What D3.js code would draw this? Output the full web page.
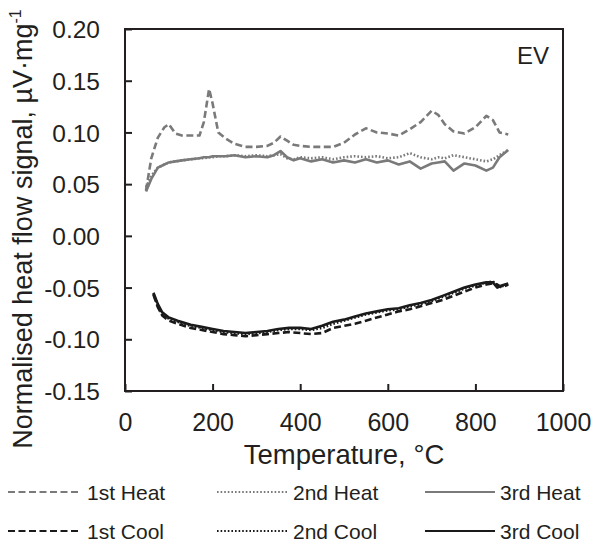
<!DOCTYPE html>
<html>
<head>
<meta charset="utf-8">
<script src="https://cdn.jsdelivr.net/npm/d3@7"></script>
<style>
  body { margin: 0; background: #fff; }
  text { font-family: "Liberation Sans", Arial, sans-serif; fill: #231f20; }
</style>
</head>
<body>
<svg id="chart"></svg>
<script>
// temperatures (°C) at which the heating curves were read
const heatTemps = [48, 60, 75, 90, 100, 115, 130, 150, 170, 180, 192, 200, 213, 230, 250, 275, 300, 325, 340, 355, 370, 385,
  400, 425, 450, 475, 500, 525, 550, 575, 600, 625, 650, 675, 700, 715, 730, 750, 775, 800, 825, 840, 855, 875];
const heat1 = [0.044, 0.075, 0.095, 0.105, 0.108, 0.099, 0.097, 0.097, 0.097, 0.110, 0.142, 0.128, 0.100, 0.094, 0.089, 0.086, 0.086, 0.087, 0.090, 0.096, 0.092, 0.088,
  0.087, 0.086, 0.086, 0.086, 0.090, 0.098, 0.104, 0.100, 0.099, 0.097, 0.103, 0.110, 0.121, 0.117, 0.108, 0.101, 0.099, 0.105, 0.116, 0.112, 0.100, 0.098];
const heat2 = [0.047, 0.058, 0.066, 0.069, 0.071, 0.072, 0.073, 0.074, 0.075, 0.075, 0.076, 0.076, 0.077, 0.077, 0.078, 0.077, 0.078, 0.077, 0.078, 0.079, 0.075, 0.074,
  0.076, 0.075, 0.076, 0.074, 0.076, 0.077, 0.076, 0.077, 0.075, 0.076, 0.080, 0.076, 0.074, 0.076, 0.075, 0.078, 0.076, 0.074, 0.072, 0.074, 0.078, 0.083];
const heat3 = [0.043, 0.055, 0.066, 0.069, 0.071, 0.072, 0.073, 0.074, 0.075, 0.076, 0.076, 0.077, 0.077, 0.077, 0.078, 0.076, 0.077, 0.076, 0.078, 0.082, 0.076, 0.073,
  0.075, 0.072, 0.074, 0.071, 0.073, 0.071, 0.074, 0.071, 0.073, 0.069, 0.072, 0.065, 0.070, 0.071, 0.072, 0.063, 0.070, 0.068, 0.063, 0.066, 0.076, 0.083];

// temperatures for the cooling curves
const coolTemps = [65, 75, 85, 100, 120, 150, 175, 200, 225, 250, 275, 300, 325, 350, 375, 400, 425, 450, 475, 500,
  525, 550, 575, 600, 625, 650, 675, 700, 725, 750, 775, 800, 825, 840, 850, 860, 875];
const cool1 = [-0.057, -0.069, -0.077, -0.082, -0.085, -0.089, -0.091, -0.093, -0.095, -0.096, -0.097, -0.096, -0.095, -0.094, -0.093, -0.094, -0.095, -0.094, -0.089, -0.087,
  -0.085, -0.082, -0.079, -0.076, -0.073, -0.071, -0.068, -0.065, -0.062, -0.058, -0.054, -0.050, -0.047, -0.046, -0.047, -0.050, -0.047];
const cool2 = [-0.056, -0.068, -0.076, -0.080, -0.083, -0.087, -0.089, -0.091, -0.093, -0.094, -0.095, -0.094, -0.093, -0.091, -0.090, -0.090, -0.091, -0.089, -0.085, -0.082,
  -0.079, -0.076, -0.074, -0.072, -0.071, -0.068, -0.066, -0.063, -0.059, -0.055, -0.051, -0.048, -0.045, -0.044, -0.048, -0.049, -0.046];
const cool3 = [-0.055, -0.066, -0.074, -0.079, -0.082, -0.086, -0.088, -0.090, -0.092, -0.093, -0.094, -0.093, -0.092, -0.090, -0.089, -0.089, -0.090, -0.087, -0.083, -0.081,
  -0.078, -0.075, -0.073, -0.071, -0.070, -0.067, -0.065, -0.062, -0.058, -0.054, -0.050, -0.047, -0.045, -0.045, -0.050, -0.048, -0.046];

const xTicks = [0, 200, 400, 600, 800, 1000];
const yTicks = [0.20, 0.15, 0.10, 0.05, 0.00, -0.05, -0.10, -0.15];

const seriesNames = ["1st Heat", "2nd Heat", "3rd Heat", "1st Cool", "2nd Cool", "3rd Cool"];

const width = 602, height = 548;
const margin = { left: 125, right: 39, top: 29, bottom: 157 };

const svg = d3.select("#chart").attr("width", width).attr("height", height);

const x = d3.scaleLinear().domain([0, 1000]).range([margin.left, width - margin.right]);
const y = d3.scaleLinear().domain([-0.15, 0.20]).range([height - margin.bottom, margin.top]);

const heatColor = "#7a7a7a";
const coolColor = "#1a1a1a";
const dash = "7,3.5";
const dot = "1.6,2";

// line styles for each series
const series = [
  { name: seriesNames[0], temps: heatTemps, vals: heat1, color: heatColor, dash: dash },
  { name: seriesNames[1], temps: heatTemps, vals: heat2, color: heatColor, dash: dot },
  { name: seriesNames[2], temps: heatTemps, vals: heat3, color: heatColor, dash: null },
  { name: seriesNames[3], temps: coolTemps, vals: cool1, color: coolColor, dash: dash },
  { name: seriesNames[4], temps: coolTemps, vals: cool2, color: coolColor, dash: dot },
  { name: seriesNames[5], temps: coolTemps, vals: cool3, color: coolColor, dash: null }
];

const line = d3.line().x(d => x(d[0])).y(d => y(d[1]));

svg.append("g").selectAll("path")
  .data(series)
  .join("path")
  .attr("d", s => line(s.temps.map((t, i) => [t, s.vals[i]])))
  .attr("fill", "none")
  .attr("stroke", s => s.color)
  .attr("stroke-width", 2.6)
  .attr("stroke-dasharray", s => s.dash)
  .attr("stroke-linejoin", "round");

// frame
svg.append("rect")
  .attr("x", x(0)).attr("y", y(0.20))
  .attr("width", x(1000) - x(0)).attr("height", y(-0.15) - y(0.20))
  .attr("fill", "none").attr("stroke", "#231f20").attr("stroke-width", 2);

// x axis, ticks point inward
const xAxis = svg.append("g")
  .attr("transform", `translate(0,${y(-0.15)})`)
  .call(d3.axisBottom(x).tickValues(xTicks).tickSizeInner(-7).tickSizeOuter(0).tickPadding(0).tickFormat(d3.format("d")));
xAxis.select(".domain").remove();
xAxis.selectAll("line").attr("stroke", "#231f20").attr("stroke-width", 2);
xAxis.selectAll("text").attr("font-size", 25).attr("font-family", null).attr("fill", null).attr("dy", null).attr("y", 40);

const yAxis = svg.append("g")
  .attr("transform", `translate(${x(0)},0)`)
  .call(d3.axisLeft(y).tickValues(yTicks).tickSizeInner(-7).tickSizeOuter(0).tickPadding(0).tickFormat(d3.format(".2f")));
yAxis.select(".domain").remove();
yAxis.selectAll("line").attr("stroke", "#231f20").attr("stroke-width", 2);
yAxis.selectAll("text").attr("font-size", 24.5).attr("font-family", null).attr("fill", null).attr("x", -25).attr("dy", "0.35em")
  .text(d => d3.format(".2f")(d).replace("−", "-"));

// axis titles
svg.append("text")
  .attr("x", (x(0) + x(1000)) / 2).attr("y", 464)
  .attr("text-anchor", "middle").attr("font-size", 27.5)
  .text("Temperature, °C");

const yt = svg.append("text")
  .attr("transform", `translate(32,${229}) rotate(-90)`)
  .attr("text-anchor", "middle").attr("font-size", 27);
yt.append("tspan").text("Normalised heat flow signal, µV·mg");
yt.append("tspan").attr("font-size", 16).attr("dy", -11).text("-1");

svg.append("text")
  .attr("x", 549).attr("y", 64).attr("text-anchor", "end").attr("font-size", 24)
  .text("EV");

// legend
const legendPos = [
  { lx: 8, tx: 87, row: 0 }, { lx: 217, tx: 293, row: 0 }, { lx: 425, tx: 500, row: 0 },
  { lx: 8, tx: 87, row: 1 }, { lx: 217, tx: 293, row: 1 }, { lx: 425, tx: 500, row: 1 }
];
const rowY = [492, 531];
const lg = svg.append("g").selectAll("g").data(series).join("g")
  .attr("transform", (s, i) => `translate(0,${rowY[legendPos[i].row]})`);
lg.append("line")
  .attr("x1", (s, i) => legendPos[i].lx).attr("x2", (s, i) => legendPos[i].lx + 70)
  .attr("stroke", s => s.color).attr("stroke-width", 2.2)
  .attr("stroke-dasharray", s => s.dash);
lg.append("text")
  .attr("x", (s, i) => legendPos[i].tx).attr("dy", "0.36em")
  .attr("font-size", 21)
  .text(s => s.name);
</script>
</body>
</html>
